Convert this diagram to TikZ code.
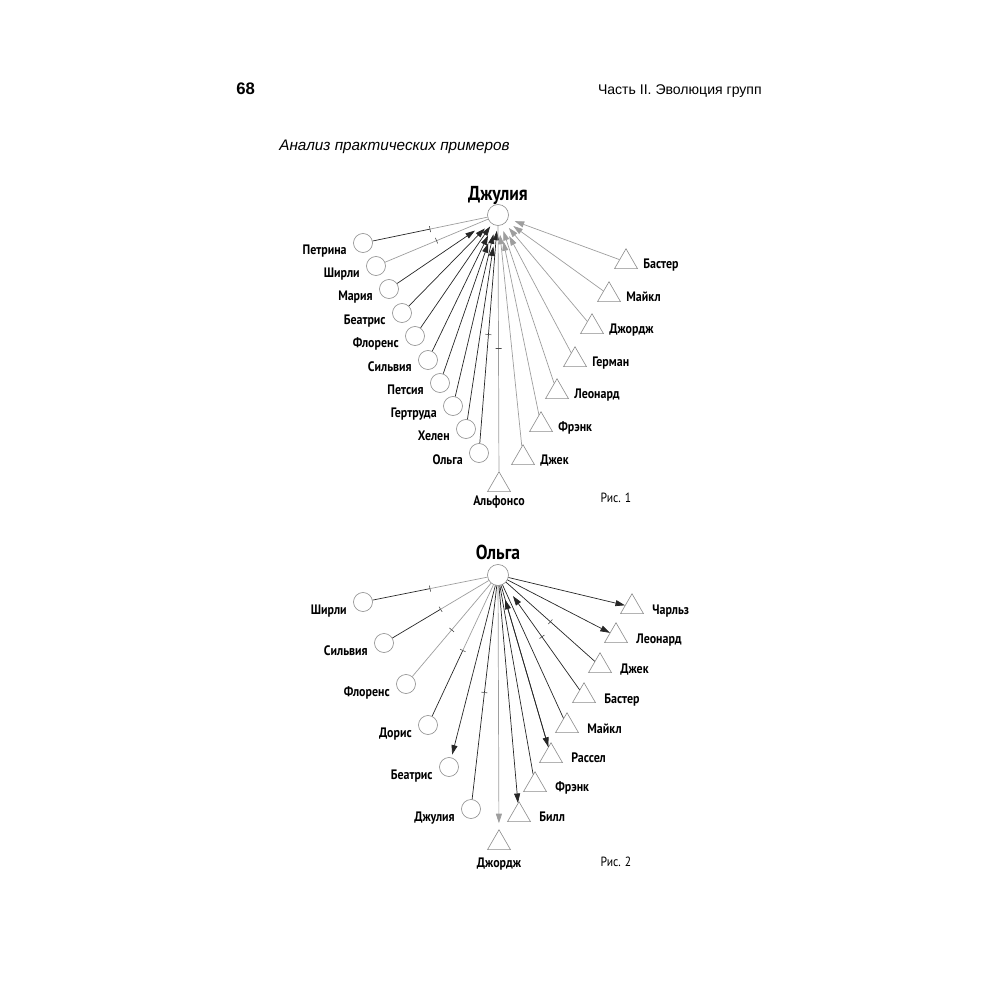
\documentclass[tikz,border=0pt]{standalone}
\usepackage{fontspec}
\setmainfont{Liberation Sans}
\newfontfamily\narrowfont{PT Sans}[FakeStretch=0.87]
\usetikzlibrary{shapes.geometric,arrows.meta}

\begin{document}
\begin{tikzpicture}[x=0.2mm,y=-0.2mm,
  woman/.style={circle,draw=black!45,line width=0.35pt,minimum size=3.8mm,inner sep=0},
  centre/.style={woman,minimum size=4.2mm},
  man/.style={regular polygon,regular polygon sides=3,draw=black!45,line width=0.35pt,minimum size=5.3mm,inner sep=0},
  who/.style={font=\narrowfont\bfseries\fontsize{7.8}{9}\selectfont,inner sep=0},
  figno/.style={font=\narrowfont\fontsize{7.6}{9}\selectfont,inner sep=0},
  heading/.style={font=\narrowfont\bfseries\fontsize{11.5}{13}\selectfont,inner sep=0},
  blk/.style={draw=black!85,line width=0.4pt},
  gry/.style={draw=black!38,line width=0.4pt},
  tip/.style={-{Triangle[length=1.9mm,width=1.2mm]}},
  tickmark/.style={sloped,draw=black!70,inner sep=0,minimum width=0,minimum height=1.2mm,line width=0.35pt},
]
\useasboundingbox (0,0) rectangle (1000,1000);

\node[font=\bfseries\fontsize{9.5}{11}\selectfont,anchor=base west,inner sep=0] (page) at (236,94) {68};
\node[font=\fontsize{8}{10}\selectfont,anchor=base east,inner sep=0] (part) at (762,94) {Часть II. Эволюция групп};
\node[font=\itshape\fontsize{8.7}{10}\selectfont,anchor=base west,inner sep=0] (section) at (279,150) {Анализ практических примеров};

% Рис. 1
\node[heading,anchor=base] (tjulia) at (498,200) {Джулия};
\node[centre] (julia) at (498,215) {};

\node[woman] (petrina) at (363,243) {};
\node[woman] (shirli) at (376,266) {};
\node[woman] (maria) at (389,289) {};
\node[woman] (beatris) at (402,313) {};
\node[woman] (florens) at (415,336) {};
\node[woman] (silvia) at (428,360) {};
\node[woman] (petsia) at (440,383) {};
\node[woman] (gertruda) at (453,406) {};
\node[woman] (helen) at (466,429) {};
\node[woman] (olga) at (479,453) {};

\node[who,anchor=base east] (lpetrina) at (347,254) {Петрина};
\node[who,anchor=base east] (lshirli) at (360,277) {Ширли};
\node[who,anchor=base east] (lmaria) at (373,300) {Мария};
\node[who,anchor=base east] (lbeatris) at (386,324) {Беатрис};
\node[who,anchor=base east] (lflorens) at (399,347) {Флоренс};
\node[who,anchor=base east] (lsilvia) at (412,371) {Сильвия};
\node[who,anchor=base east] (lpetsia) at (424,394) {Петсия};
\node[who,anchor=base east] (lgertruda) at (437,417) {Гертруда};
\node[who,anchor=base east] (lhelen) at (450,440) {Хелен};
\node[who,anchor=base east] (lolga) at (463,464) {Ольга};

\node[man] (baster) at (626,262) {};
\node[man] (maikl) at (609,295) {};
\node[man] (jorj) at (592,327) {};
\node[man] (german) at (575,360) {};
\node[man] (leonard) at (557,392) {};
\node[man] (frenk) at (541,425) {};
\node[man] (jack) at (523,458) {};
\node[man] (alfonso) at (499,485) {};

\node[who,anchor=base west] (lbaster) at (643,268) {Бастер};
\node[who,anchor=base west] (lmaikl) at (626,301) {Майкл};
\node[who,anchor=base west] (ljorj) at (609,333) {Джордж};
\node[who,anchor=base west] (lgerman) at (592,366) {Герман};
\node[who,anchor=base west] (lleonard) at (574,398) {Леонард};
\node[who,anchor=base west] (lfrenk) at (558,431) {Фрэнк};
\node[who,anchor=base west] (ljack) at (540,464) {Джек};
\node[who,anchor=base] (lalfonso) at (499,505) {Альфонсо};
\node[figno,anchor=base] (fig1) at (616,502) {Рис. 1};

\path (petrina) -- (julia) coordinate[pos=0.5] (mpetrina);
\draw[blk] (petrina) -- node[tickmark,pos=1]{} (mpetrina);
\draw[gry] (mpetrina) -- (julia);
\draw[gry] (shirli) -- node[tickmark]{} (julia);
\draw[blk,tip,shorten >=3.4mm] (maria) -- (julia);
\draw[blk,tip,shorten >=1.6mm] (beatris) -- (julia);
\draw[blk,tip,shorten >=0.6mm] (florens) -- (julia);
\draw[blk,tip,shorten >=2.4mm] (silvia) -- (julia);
\draw[blk,tip,shorten >=3.8mm] (petsia) -- (julia);
\draw[blk,tip,shorten >=1.8mm] (gertruda) -- (julia);
\draw[blk,tip,shorten >=4.2mm] (helen) -- (julia);
\draw[blk,tip,shorten >=1mm] (olga) -- node[tickmark]{} (julia);

\draw[gry,tip,shorten >=1.4mm] (baster) -- (julia);
\draw[gry,tip,shorten >=1.6mm] (maikl) -- (julia);
\draw[gry,tip,shorten >=1.2mm] (jorj) -- (julia);
\draw[gry,tip,shorten >=2.6mm] (german) -- (julia);
\draw[gry,tip,shorten >=1.2mm] (leonard) -- (julia);
\draw[gry,tip,shorten >=3.2mm] (frenk) -- (julia);
\draw[gry,tip,shorten >=1.8mm] (jack) -- (julia);
\draw[gry] (alfonso) -- node[tickmark]{} (julia);

% Рис. 2
\node[heading,anchor=base] (tolga) at (498,559) {Ольга};
\node[centre] (olgac) at (498,575) {};

\node[woman] (shirlib) at (363,602) {};
\node[woman] (silviab) at (384,643) {};
\node[woman] (florensb) at (406,684) {};
\node[woman] (doris) at (428,725) {};
\node[woman] (beatrisb) at (449,767) {};
\node[woman] (juliab) at (471,809) {};

\node[who,anchor=base east] (lshirlib) at (347,614) {Ширли};
\node[who,anchor=base east] (lsilviab) at (368,655) {Сильвия};
\node[who,anchor=base east] (lflorensb) at (390,696) {Флоренс};
\node[who,anchor=base east] (ldoris) at (412,737) {Дорис};
\node[who,anchor=base east] (lbeatrisb) at (433,779) {Беатрис};
\node[who,anchor=base east] (ljuliab) at (455,821) {Джулия};

\node[man] (charlz) at (632,607) {};
\node[man] (leonardb) at (616,636) {};
\node[man] (jackb) at (600,666) {};
\node[man] (basterb) at (584,696) {};
\node[man] (maiklb) at (567,726) {};
\node[man] (rassel) at (551,756) {};
\node[man] (frenkb) at (535,785) {};
\node[man] (bill) at (519,815) {};
\node[man] (jorjb) at (499,843) {};

\node[who,anchor=base west] (lcharlz) at (652,614) {Чарльз};
\node[who,anchor=base west] (lleonardb) at (636,643) {Леонард};
\node[who,anchor=base west] (ljackb) at (620,673) {Джек};
\node[who,anchor=base west] (lbasterb) at (604,703) {Бастер};
\node[who,anchor=base west] (lmaiklb) at (587,733) {Майкл};
\node[who,anchor=base west] (lrassel) at (571,762) {Рассел};
\node[who,anchor=base west] (lfrenkb) at (555,791) {Фрэнк};
\node[who,anchor=base west] (lbill) at (539,821) {Билл};
\node[who,anchor=base] (ljorjb) at (499,867) {Джордж};
\node[figno,anchor=base] (fig2) at (616,866) {Рис. 2};

\path (shirlib) -- (olgac) coordinate[pos=0.5] (mshirlib);
\draw[blk] (shirlib) -- node[tickmark,pos=1]{} (mshirlib);
\draw[gry] (mshirlib) -- (olgac);
\path (silviab) -- (olgac) coordinate[pos=0.5] (msilviab);
\draw[blk] (silviab) -- node[tickmark,pos=1]{} (msilviab);
\draw[gry] (msilviab) -- (olgac);
\draw[gry] (florensb) -- node[tickmark]{} (olgac);
\path (doris) -- (olgac) coordinate[pos=0.5] (mdoris);
\draw[blk] (doris) -- node[tickmark,pos=1]{} (mdoris);
\draw[gry] (mdoris) -- (olgac);
\draw[blk,tip,shorten >=0.6mm] (olgac) -- (beatrisb);
\draw[blk] (juliab) -- node[tickmark]{} (olgac);

\draw[gry,tip,shorten >=1.2mm] (olgac) -- (jorjb);
\draw[blk,tip] (olgac) -- (bill);
\draw[blk] (frenkb) -- (olgac);
\draw[blk,tip,shorten >=3mm] (rassel) -- (olgac);
\draw[blk,tip] (olgac) -- (rassel);
\draw[blk] (maiklb) -- (olgac);
\draw[blk,tip,shorten >=3mm] (basterb) -- node[tickmark]{} (olgac);
\draw[blk] (jackb) -- node[tickmark]{} (olgac);
\draw[blk,tip] (olgac) -- (leonardb);
\draw[blk,tip] (olgac) -- (charlz);
\end{tikzpicture}
\end{document}
